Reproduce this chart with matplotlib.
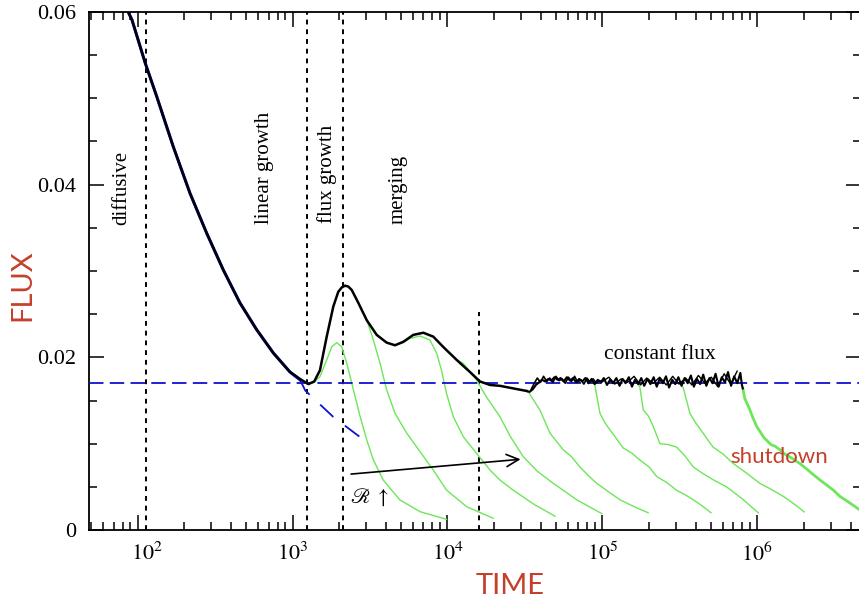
import numpy as np
import matplotlib
matplotlib.use("Agg")
import matplotlib.pyplot as plt
from matplotlib.ticker import LogLocator, MultipleLocator, FixedLocator, FixedFormatter, NullFormatter, FuncFormatter

plt.rcParams['font.family'] = ['Liberation Serif', 'DejaVu Serif']
plt.rcParams['mathtext.fontset'] = 'stix'

RED = '#c4402a'
GREEN = '#6ee65a'
BLUE = '#1010d0'

# main (black) flux curve
main_t = [87, 92, 112, 133, 170, 218, 279, 358, 458, 587, 752, 963, 1117, 1265,
          1380, 1503, 1662, 1834, 1974, 2080, 2181, 2290, 2410, 2660, 3013, 3493,
          4053, 4584, 5188, 6015, 6982, 8093, 9393, 11460, 13960, 16210, 18800,
          21800, 26600, 32500]
main_f = [0.0600, 0.0591, 0.0541, 0.0502, 0.0444, 0.0390, 0.0344, 0.0301, 0.0263,
          0.0232, 0.0205, 0.0183, 0.0175, 0.0169,
          0.0172, 0.0185, 0.0224, 0.0259, 0.0276, 0.0281, 0.0283, 0.0282, 0.0278,
          0.0263, 0.0243, 0.0226, 0.0217, 0.0214, 0.0218, 0.0226, 0.02285, 0.0224,
          0.0212, 0.0197, 0.0183, 0.0172, 0.0168, 0.0167, 0.0164, 0.0161]

# constant flux regime (noisy)
const_t = [32400, 33900, 35500, 37200, 38900, 40700, 42700, 44700, 46800, 49000,
           51300, 53700, 56200, 58900, 61700, 64600, 67600, 70800, 74100, 77600,
           81300, 85100, 89100, 93300, 97700, 102000, 107000, 112000, 117000, 123000,
           129000, 135000, 141000, 148000, 155000, 162000, 170000, 178000, 186000, 195000,
           204000, 214000, 224000, 234000, 245000, 257000, 269000, 282000, 295000, 309000,
           324000, 339000, 355000, 372000, 389000, 407000, 427000, 447000, 468000, 490000,
           513000, 537000, 562000, 589000, 617000, 646000, 676000, 708000, 741000, 776000,
           794000, 805000]
const_f = [0.0161, 0.0160, 0.0163, 0.0168, 0.0171, 0.0174, 0.0172, 0.0175, 0.0173, 0.0177,
           0.0174, 0.0176, 0.0172, 0.0177, 0.0173, 0.0176, 0.0171, 0.0175, 0.0172, 0.0176,
           0.0170, 0.0175, 0.0169, 0.0174, 0.0171, 0.0176, 0.0168, 0.0174, 0.0170, 0.0176,
           0.0167, 0.0175, 0.0170, 0.0177, 0.0166, 0.0174, 0.0169, 0.0176, 0.0167, 0.0175,
           0.0169, 0.0177, 0.0166, 0.0175, 0.0170, 0.0178, 0.0165, 0.0174, 0.0169, 0.0177,
           0.0167, 0.0176, 0.0170, 0.0179, 0.0166, 0.0175, 0.0169, 0.0180, 0.0167, 0.0176,
           0.0170, 0.0181, 0.0166, 0.0177, 0.0171, 0.0183, 0.0167, 0.0178, 0.0170, 0.0182,
           0.0168, 0.0164]
loop_t = [34700, 36300, 38000, 39800, 41700, 43700, 45700, 47900, 50100, 52500,
          55000, 57500, 60300, 63100, 66100, 69200, 72400, 75900, 79400, 83200,
          87100, 91200, 95500, 100000]
loop_f = [0.0163, 0.0170, 0.0176, 0.0171, 0.0178, 0.0172, 0.0176, 0.0171, 0.0178, 0.0173,
          0.0175, 0.0170, 0.0177, 0.0172, 0.0178, 0.0171, 0.0174, 0.0169, 0.0176, 0.0171,
          0.0175, 0.0170, 0.0173, 0.0172]
loop2_t = [100000, 110000, 120000, 132000, 145000, 160000, 176000, 193000, 213000, 234000,
           258000, 284000, 312000, 344000, 378000, 416000, 458000, 504000, 555000, 610000,
           672000, 740000]
loop2_f = [0.0172, 0.0177, 0.0169, 0.0175, 0.0171, 0.0178, 0.0168, 0.0176, 0.0170, 0.0177,
           0.0168, 0.0178, 0.0169, 0.0176, 0.0168, 0.0179, 0.0170, 0.0177, 0.0166, 0.0181,
           0.0169, 0.0184]

# diffusive solution (blue) and its continuation
diff_t = [87, 92, 112, 133, 170, 218, 279, 358, 458, 587, 752, 963, 1117]
diff_f = [0.0600, 0.0591, 0.0541, 0.0502, 0.0444, 0.0390, 0.0344, 0.0301, 0.0263,
          0.0232, 0.0205, 0.0183, 0.0174]
diffx_t = [1117, 1210, 1824, 2793]
diffx_f = [0.0174, 0.01614, 0.01313, 0.01062]
flux_const = 0.0170

# green runs (switched off one after another)
green_t = [
    [1265, 1380, 1503, 1662, 1791, 1928, 2077, 2239, 2473, 2731, 3013, 3326, 3848,
     4932, 6653, 9852],
    [2410, 2560, 2724, 3013, 3326, 3672, 4053, 4584, 5466, 6653, 8093, 9852, 13300, 19700],
    [4584, 5188, 5728, 6653, 7703, 8520, 9140, 9852, 10900, 12650, 15400, 18800, 21800,
     26600, 36700, 49400],
    [9393, 11460, 12650, 15400, 17800, 21800, 25500, 30800, 38000, 48200, 68200, 98900],
    [32500, 33200, 39500, 45900, 55800, 63000, 71600, 80000, 91800, 110000, 129700,
     160000, 197000],
    [85100, 89100, 96400, 104000, 111700, 123000, 136000, 155000, 174500, 200000, 223600,
     260000, 301000, 340000, 385500, 440000, 501000],
    [170000, 174500, 183400, 198000, 212600, 234900, 265000, 301000, 340000, 385500,
     440000, 520000, 632000, 800000, 1012000],
    [324000, 332000, 367000, 400000, 447000, 480000, 518000, 600000, 698000, 850000,
     1037000, 1230000, 1467000, 1700000, 2004000],
]
green_f = [
    [0.0169, 0.0171, 0.01776, 0.0197, 0.02123, 0.0217, 0.02123, 0.0193, 0.01622, 0.01313,
     0.01043, 0.00811, 0.00579, 0.00348, 0.00212, 0.00124],
    [0.0278, 0.0270, 0.02587, 0.02433, 0.0220, 0.0193, 0.01622, 0.01352, 0.0112, 0.00907,
     0.00695, 0.00463, 0.0027, 0.00136],
    [0.0214, 0.0217, 0.0222, 0.02247, 0.0220, 0.02047, 0.01853, 0.01583, 0.01312, 0.0108,
     0.00888, 0.00695, 0.00579, 0.0046, 0.0029, 0.0016],
    [0.0212, 0.0197, 0.0193, 0.01737, 0.01544, 0.01312, 0.0108, 0.0085, 0.0068, 0.0054,
     0.0035, 0.0019],
    [0.0161, 0.0160, 0.0139, 0.0112, 0.0093, 0.0085, 0.0073, 0.0064, 0.0054, 0.0044,
     0.0035, 0.0027, 0.0020],
    [0.0171, 0.0169, 0.0135, 0.0124, 0.0116, 0.0106, 0.0095, 0.0089, 0.0081, 0.0073,
     0.0062, 0.0055, 0.0046, 0.0041, 0.0035, 0.0028, 0.0020],
    [0.0169, 0.0165, 0.0139, 0.0132, 0.0120, 0.0100, 0.0099, 0.0096, 0.0086, 0.0073,
     0.0066, 0.0058, 0.0050, 0.0036, 0.0020],
    [0.0167, 0.0165, 0.0135, 0.0124, 0.0112, 0.0104, 0.0096, 0.0088, 0.0077, 0.0066,
     0.0054, 0.0047, 0.0039, 0.0031, 0.0021],
]
shut_t = [805000, 830000, 860000, 895000, 930000, 989000, 1040000, 1100000, 1146000, 1220000,
          1300000, 1396000, 1500000, 1640000, 1880000, 2100000, 2300000, 2530000, 2800000, 3100000,
          3400000, 3900000, 4600000]
shut_f = [0.0164, 0.0152, 0.0146, 0.0139, 0.0131, 0.0120, 0.0114, 0.0107, 0.0104, 0.0099,
          0.0097, 0.0093, 0.0088, 0.0084, 0.0077, 0.0070, 0.0064, 0.0058, 0.0052, 0.0046,
          0.0039, 0.0032, 0.0023]

phase_t = [114, 1242, 2120]
merge_end_t = 16000
merge_end_top = 0.0253

fig = plt.figure(figsize=(8.59, 6.06), dpi=100)
ax = fig.add_axes([89 / 859, 76 / 606, 772 / 859, 518 / 606])

for g_t, g_f in zip(green_t, green_f):
    ax.plot(g_t, g_f, color=GREEN, lw=1.0, zorder=2)
ax.plot(shut_t, shut_f, color=GREEN, lw=2.0, zorder=2)

ax.axhline(flux_const, color=BLUE, lw=1.3, dashes=(8, 3.5), zorder=3)
ax.plot(diff_t, diff_f, color=BLUE, lw=2.2, zorder=3)
ax.plot(diffx_t, diffx_f, color=BLUE, lw=1.3, dashes=(10, 8), zorder=3)

ax.plot(main_t, main_f, color='black', lw=1.8, zorder=4)
ax.plot(const_t, const_f, color='black', lw=1.5, zorder=4)
ax.plot(loop_t, loop_f, color='black', lw=1.2, zorder=4)
ax.plot(loop2_t, loop2_f, color='black', lw=1.0, zorder=4)

for t in phase_t:
    ax.axvline(t, color='black', lw=1.4, dashes=(2.5, 2.5), zorder=1)
ax.plot([merge_end_t, merge_end_t], [0, merge_end_top], color='black', lw=1.4,
        dashes=(2.5, 2.5), zorder=1)

ax.annotate('', xy=(30840, 0.00822), xytext=(2291, 0.00645),
            arrowprops=dict(arrowstyle='->', color='black', lw=1.2, mutation_scale=22))
ax.text(3120, 0.0038, r'$\mathscr{R}\ \uparrow$', fontsize=15, ha='center', va='center')

ax.text(79.4, 0.0396, 'diffusive', rotation=90, fontsize=15, ha='center', va='center')
ax.text(655, 0.0420, 'linear growth', rotation=90, fontsize=15, ha='center', va='center')
ax.text(1671, 0.0412, 'flux growth', rotation=90, fontsize=15, ha='center', va='center')
ax.text(4800, 0.0394, 'merging', rotation=90, fontsize=15, ha='center', va='center')
ax.text(233000, 0.0203, 'constant flux', fontsize=15.5, ha='center', va='center')
ax.text(1.38e6, 0.0084, 'shutdown', fontsize=16, ha='center', va='center',
        color=RED, family=['Lato', 'DejaVu Sans'])

ax.set_xscale('log')
ax.set_xlim(48.6, 4.66e6)
ax.set_ylim(0, 0.06)

ax.xaxis.set_major_locator(LogLocator(base=10, numticks=12))
ax.xaxis.set_major_formatter(FuncFormatter(
    lambda v, p: '' if round(np.log10(v)) == 2 else r'$10^{%d}$' % round(np.log10(v))))
ax.xaxis.set_minor_locator(LogLocator(base=10, subs=np.arange(2, 10), numticks=12))
ax.xaxis.set_minor_formatter(NullFormatter())
ax.yaxis.set_major_locator(FixedLocator([0, 0.02, 0.04, 0.06]))
ax.yaxis.set_major_formatter(FixedFormatter(['0', '0.02', '0.04', '0.06']))
ax.yaxis.set_minor_locator(MultipleLocator(0.005))

ax.tick_params(which='both', direction='in', top=True, right=True, labelsize=16, width=1.1)
ax.tick_params(which='major', length=11, pad=9)
ax.tick_params(which='minor', length=6)
for s in ax.spines.values():
    s.set_linewidth(1.3)

# the 10^2 label sits a little right of its tick in the original
ax.text(115, -13 / 518, r'$10^{2}$', transform=ax.get_xaxis_transform(),
        fontsize=16, ha='center', va='top')

fig.text(22 / 859, 1 - 285 / 606, 'FLUX', rotation=90, fontsize=21, color=RED,
         ha='center', va='center', family=['Lato', 'DejaVu Sans'])
fig.text(510 / 859, 1 - 586 / 606, 'TIME', fontsize=21, color=RED,
         ha='center', va='center', family=['Lato', 'DejaVu Sans'])

fig.savefig('out.png', dpi=100)
